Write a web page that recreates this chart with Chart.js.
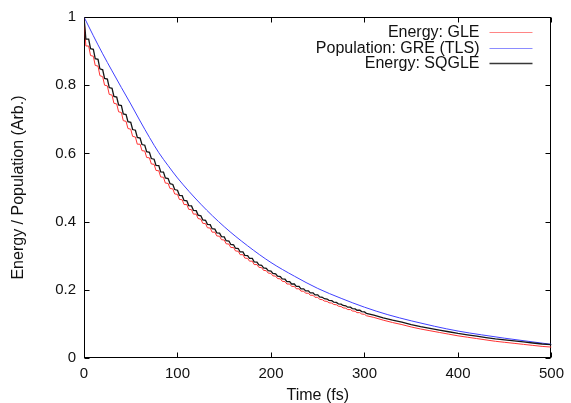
<!DOCTYPE html>
<html>
<head>
<meta charset="utf-8">
<script src="https://cdn.jsdelivr.net/npm/chart.js@4/dist/chart.umd.min.js"></script>
<style>
  html, body { margin: 0; padding: 0; background: #ffffff; }
  #wrap { width: 571px; height: 403px; }
</style>
</head>
<body>
<div id="wrap"><canvas id="c" width="571" height="403"></canvas></div>
<script>
// ---- data ----
const timeE = [0,2,5,7,10,12,15,17,20,22,25,27,30,32,35,37,40,42,45,47,50,52,55,57,60,62,65,67,70,72,75,77,80,82,85,87,90,92,95,97,100,102,105,107,110,112,115,117,120,122,125,127,130,132,135,137,140,142,145,147,150,152,155,157,160,162,165,167,170,172,175,177,180,182,185,187,190,192,195,197,200,202,205,207,210,212,215,217,220,222,225,227,230,232,235,237,240,242,245,247,250,252,255,257,260,262,265,267,270,272,275,277,280,282,285,287,290,292,295,297,300,302,310,320,330,340,350,360,370,380,390,400,410,420,430,440,450,460,470,480,490,500];

const energySQGLE = [1.0,0.935,0.935,0.907,0.905,0.878,0.876,0.848,0.845,0.820,0.818,0.793,0.791,0.767,0.765,0.742,0.740,0.716,0.714,0.693,0.691,0.670,0.668,0.647,0.645,0.626,0.624,0.605,0.603,0.585,0.583,0.565,0.564,0.546,0.545,0.528,0.526,0.511,0.509,0.494,0.492,0.477,0.476,0.462,0.461,0.447,0.446,0.433,0.432,0.419,0.417,0.405,0.404,0.392,0.391,0.379,0.378,0.367,0.366,0.356,0.355,0.344,0.343,0.333,0.332,0.322,0.321,0.311,0.311,0.301,0.300,0.292,0.292,0.282,0.281,0.273,0.272,0.264,0.263,0.256,0.255,0.248,0.247,0.240,0.239,0.232,0.231,0.224,0.224,0.217,0.217,0.210,0.210,0.203,0.203,0.197,0.197,0.191,0.191,0.185,0.185,0.179,0.178,0.174,0.173,0.169,0.168,0.164,0.163,0.159,0.158,0.154,0.153,0.149,0.149,0.145,0.144,0.140,0.140,0.136,0.135,0.131,0.126,0.118,0.111,0.105,0.098,0.092,0.087,0.082,0.077,0.072,0.068,0.064,0.060,0.056,0.053,0.050,0.047,0.044,0.041,0.039];

const energyGLE = [1.0,0.915,0.915,0.887,0.885,0.858,0.856,0.828,0.825,0.800,0.798,0.773,0.771,0.747,0.745,0.722,0.720,0.696,0.694,0.673,0.671,0.650,0.648,0.627,0.627,0.608,0.607,0.588,0.587,0.569,0.568,0.550,0.549,0.531,0.530,0.513,0.512,0.497,0.496,0.481,0.480,0.465,0.464,0.450,0.450,0.436,0.435,0.422,0.422,0.409,0.407,0.395,0.394,0.382,0.381,0.369,0.369,0.358,0.357,0.347,0.346,0.335,0.334,0.324,0.324,0.314,0.313,0.303,0.303,0.293,0.292,0.284,0.284,0.274,0.274,0.266,0.265,0.257,0.256,0.249,0.248,0.241,0.240,0.233,0.232,0.225,0.224,0.217,0.217,0.210,0.210,0.203,0.203,0.196,0.196,0.190,0.190,0.184,0.184,0.178,0.178,0.172,0.171,0.167,0.166,0.162,0.161,0.157,0.156,0.152,0.151,0.147,0.146,0.142,0.142,0.138,0.137,0.133,0.133,0.129,0.128,0.124,0.119,0.111,0.104,0.098,0.091,0.085,0.080,0.075,0.070,0.065,0.061,0.057,0.053,0.049,0.046,0.043,0.040,0.037,0.034,0.032];

const timeP = [0,10,20,30,40,50,60,70,80,90,100,125,150,175,200,225,250,275,300,325,350,375,400,425,450,475,500];
const populationGRE = [1.0,0.945,0.892,0.842,0.793,0.745,0.695,0.647,0.602,0.564,0.528,0.451,0.385,0.329,0.280,0.240,0.204,0.175,0.149,0.127,0.109,0.093,0.079,0.068,0.058,0.049,0.040];

const seriesLabels = ['Energy: GLE', 'Population: GRE (TLS)', 'Energy: SQGLE'];
const xTitle = 'Time (fs)';
const yTitle = 'Energy / Population (Arb.)';

// ---- styling ----
const FONT = '"Liberation Sans", Arial, Helvetica, sans-serif';
const TXT = '#111111';
const COL_RED = '#ff3333';
const COL_BLUE = '#4040ff';
const COL_BLACK = '#151515';

function pts(xs, ys) { return xs.map((x, i) => ({x: x, y: ys[i]})); }

const frame = {
  id: 'frame',
  beforeDatasetsDraw(chart) {
    const {ctx, chartArea: a, scales: {x, y}} = chart;
    ctx.save();
    ctx.strokeStyle = '#000';
    ctx.lineWidth = 1;
    const L = Math.round(a.left) + 0.5, R = Math.round(a.right) - 0.5;
    const T = Math.round(a.top) + 0.5, B = Math.round(a.bottom) - 0.5;
    ctx.strokeRect(L, T, R - L, B - T);
    const tl = 5;
    ctx.beginPath();
    x.ticks.forEach(t => {
      const px = Math.round(x.getPixelForValue(t.value)) + 0.5;
      ctx.moveTo(px, B); ctx.lineTo(px, B - tl);
      ctx.moveTo(px, T); ctx.lineTo(px, T + tl);
    });
    y.ticks.forEach(t => {
      const py = Math.round(y.getPixelForValue(t.value)) + 0.5;
      ctx.moveTo(L, py); ctx.lineTo(L + tl, py);
      ctx.moveTo(R, py); ctx.lineTo(R - tl, py);
    });
    ctx.stroke();
    ctx.restore();
  }
};

const keyBox = {
  id: 'keyBox',
  afterDatasetsDraw(chart) {
    const {ctx, chartArea: a} = chart;
    const cols = [COL_RED, COL_BLUE, COL_BLACK];
    const widths = [1, 1, 1.3];
    ctx.save();
    ctx.font = '16px ' + FONT;
    ctx.textAlign = 'right';
    ctx.textBaseline = 'middle';
    seriesLabels.forEach((lab, i) => {
      const yy = a.top + 15 + i * 15.5;
      ctx.fillStyle = TXT;
      ctx.fillText(lab, a.right - 72, yy + 1);
      ctx.strokeStyle = cols[i];
      ctx.globalAlpha = i === 2 ? 0.85 : 0.6;
      ctx.lineWidth = widths[i];
      ctx.beginPath();
      ctx.moveTo(a.right - 62, Math.round(yy) + 0.5);
      ctx.lineTo(a.right - 19, Math.round(yy) + 0.5);
      ctx.stroke();
      ctx.globalAlpha = 1;
    });
    ctx.restore();
  }
};

new Chart(document.getElementById('c'), {
  type: 'line',
  data: {
    datasets: [
      { label: seriesLabels[2], data: pts(timeE, energySQGLE), borderColor: COL_BLACK, borderWidth: 1.3, pointRadius: 0, tension: 0, order: 0 },
      { label: seriesLabels[1], data: pts(timeP, populationGRE), borderColor: COL_BLUE, borderWidth: 1, pointRadius: 0, cubicInterpolationMode: 'monotone', order: 1 },
      { label: seriesLabels[0], data: pts(timeE, energyGLE), borderColor: COL_RED, borderWidth: 1, pointRadius: 0, tension: 0, order: 2 }
    ]
  },
  options: {
    responsive: false,
    animation: false,
    devicePixelRatio: 1,
    layout: { padding: { top: 17, right: 16, bottom: 0, left: 0 } },
    plugins: { legend: { display: false }, tooltip: { enabled: false } },
    scales: {
      x: {
        type: 'linear', min: 0, max: 500,
        grid: { display: false, drawTicks: false },
        border: { display: false },
        ticks: { stepSize: 100, color: TXT, font: { family: FONT, size: 15 }, padding: 7, maxRotation: 0 },
        title: { display: true, text: xTitle, color: TXT, font: { family: FONT, size: 16 }, padding: { top: 0, bottom: -2 } },
        afterFit(s) { s.height = 45; }
      },
      y: {
        type: 'linear', min: 0, max: 1,
        grid: { display: false, drawTicks: false },
        border: { display: false },
        ticks: { stepSize: 0.2, color: TXT, font: { family: FONT, size: 15 }, padding: 8,
                 callback: (v) => String(Number(v.toFixed(1))) },
        title: { display: true, text: yTitle, color: TXT, font: { family: FONT, size: 16 }, padding: { top: 9, bottom: 0 } },
        afterFit(s) { s.width = 84; }
      }
    }
  },
  plugins: [frame, keyBox]
});
</script>
</body>
</html>
